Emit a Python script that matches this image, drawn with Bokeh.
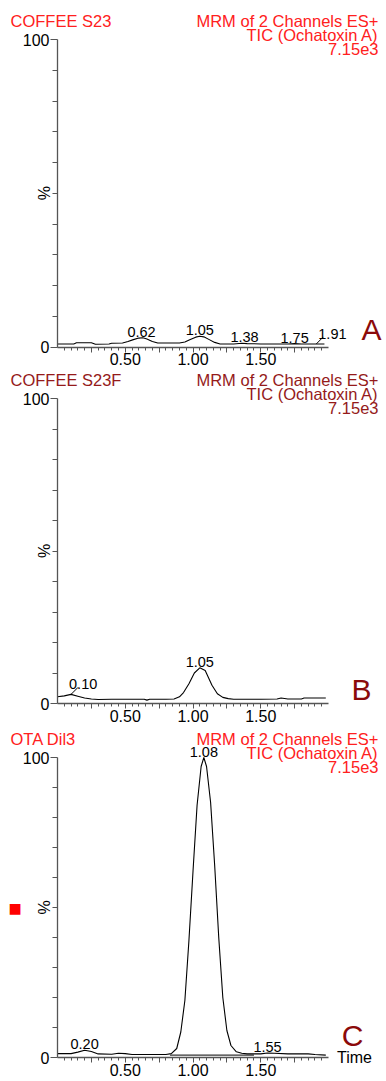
import numpy as np
from bokeh.plotting import figure
from bokeh.models import FixedTicker, Label, Range1d, PrintfTickFormatter
from bokeh.layouts import column
from bokeh.embed import file_html
from bokeh.resources import INLINE

FONT = "Liberation Sans"

# ---------------- data ----------------
a_time = [0.00, 0.12, 0.14, 0.25, 0.28, 0.38, 0.40, 0.48, 0.52, 0.56, 0.60, 0.63, 0.66, 0.70, 0.74,
          0.80, 0.90, 0.94, 0.98, 1.02, 1.05, 1.08, 1.12, 1.16, 1.20, 1.30, 1.36, 1.40, 1.50, 1.60,
          1.70, 1.75, 1.80, 1.90, 1.97]
a_pct = [1.0, 1.0, 1.4, 1.4, 0.9, 1.0, 1.2, 1.3, 1.8, 2.4, 2.9, 3.0, 2.6, 1.8, 1.3,
         1.3, 1.3, 1.6, 2.4, 3.2, 3.5, 3.3, 2.4, 1.5, 1.0, 1.0, 1.2, 1.1, 1.0, 1.0,
         1.0, 1.1, 1.0, 1.0, 1.0]
a_peaks = [0.62, 1.05, 1.38, 1.75]
a_side_peak = 1.91

b_time = [0.00, 0.05, 0.10, 0.15, 0.20, 0.25, 0.30, 0.40, 0.50, 0.64, 0.66, 0.68, 0.80, 0.86, 0.90,
          0.93, 0.97, 1.01, 1.05, 1.09, 1.14, 1.18, 1.22, 1.26, 1.30, 1.50, 1.62, 1.65, 1.70, 1.80,
          1.82, 1.98]
b_pct = [2.2, 2.5, 3.0, 2.4, 1.8, 1.5, 1.3, 1.4, 1.4, 1.4, 1.1, 1.4, 1.4, 1.5, 2.2,
         3.6, 6.5, 10.0, 11.7, 10.8, 6.0, 3.2, 2.0, 1.6, 1.4, 1.4, 1.5, 1.8, 1.5, 1.5,
         1.8, 1.8]
b_peaks = [1.05]
b_side_peak = 0.10

c_time = [0.00, 0.10, 0.15, 0.20, 0.25, 0.30, 0.40, 0.45, 0.50, 0.55, 0.80, 0.84, 0.88, 0.91, 0.94,
          0.97, 1.00, 1.03, 1.06, 1.08, 1.10, 1.13, 1.16, 1.19, 1.22, 1.25, 1.28, 1.32, 1.36, 1.40,
          1.50, 1.55, 1.60, 1.70, 1.85, 1.90, 1.98]
c_pct = [1.3, 1.3, 1.8, 2.4, 2.0, 1.2, 1.1, 1.4, 1.3, 1.0, 1.0, 1.3, 3.0, 8.5, 19.0,
         39.0, 62.0, 84.0, 97.0, 100.0, 97.0, 85.0, 64.0, 40.0, 20.0, 9.0, 4.0, 1.9, 1.4, 1.2,
         1.2, 1.5, 1.4, 1.2, 1.2, 1.0, 0.8]
c_peaks = [0.20, 1.08, 1.55]
c_base_time = [0.83, 1.45]
c_base_pct = [0.8, 0.8]

titles = ["COFFEE S23", "COFFEE S23F", "OTA Dil3"]
header_lines = ["MRM of 2 Channels ES+", "TIC (Ochatoxin A)", "7.15e3"]
panel_letters = ["A", "B", "C"]

x_major = [0.25, 0.5, 0.75, 1.0, 1.25, 1.5, 1.75]
x_minor = [round(0.05 * k, 2) for k in range(1, 40)]
y_major = [0, 100]
y_minor = [10, 20, 30, 40, 50, 60, 70, 80, 90]

RED = "#ff2020"
DARK = "#8b0a0a"
MAROON = "#951a1a"
AXIS = "#555555"

W = 386
AX_LEFT = 57      # px of time 0
PX_X = 135.5      # px per minute


def make_panel(height, axis_top, px_y, title, title_color, letter, letter_dx, letter_dy,
               t, v, peaks, side=None, side_dx=0):
    xs = 1.0 / PX_X
    ys = 1.0 / px_y
    axis_bottom = axis_top + 100 * px_y
    x0 = -AX_LEFT * xs
    x1 = (W - AX_LEFT) * xs
    y0 = -(height - axis_bottom) * ys
    y1 = 100 + axis_top * ys
    p = figure(width=W, height=height, x_range=Range1d(x0, x1), y_range=Range1d(y0, y1),
               output_backend="svg", toolbar_location=None,
               min_border_left=0, min_border_right=0, min_border_top=0, min_border_bottom=0)
    p.outline_line_color = None
    p.background_fill_alpha = 0
    p.border_fill_alpha = 0
    p.xgrid.visible = False
    p.ygrid.visible = False

    for ax in (p.xaxis[0], p.yaxis[0]):
        ax.fixed_location = 0
        ax.axis_line_color = AXIS
        ax.axis_line_width = 1.3
        ax.major_tick_line_color = AXIS
        ax.minor_tick_line_color = AXIS
        ax.major_tick_in = 0
        ax.minor_tick_in = 0
        ax.major_label_text_font = FONT
        ax.major_label_text_font_size = "16px"
        ax.major_label_text_color = "#000000"
        ax.major_label_standoff = 1
    p.xaxis.major_tick_out = 5
    p.xaxis.minor_tick_out = 3
    p.yaxis.major_tick_out = 7
    p.yaxis.minor_tick_out = 5
    p.xaxis.bounds = (0, 2.0)
    p.yaxis.bounds = (0, 100)
    p.xaxis.ticker = FixedTicker(ticks=x_major, minor_ticks=x_minor)
    p.xaxis.formatter = PrintfTickFormatter(format="%.2f")
    p.xaxis.major_label_overrides = {0.25: "", 0.75: "", 1.25: "", 1.75: ""}
    p.yaxis.ticker = FixedTicker(ticks=y_major, minor_ticks=y_minor)

    p.line(t, v, line_color="black", line_width=1.1)

    # peak labels
    for pk in peaks:
        yv = float(np.interp(pk, t, v))
        p.add_layout(Label(x=pk, y=yv, text=f"{pk:.2f}", text_font=FONT, text_font_size="14.5px",
                           text_align="center", text_baseline="bottom", y_offset=1,
                           text_color="black"))
    if side is not None:
        yv = float(np.interp(side, t, v))
        p.segment(x0=[side], y0=[yv], x1=[side + 7 * xs], y1=[yv + 7 * ys],
                  line_color="black", line_width=1)
        p.add_layout(Label(x=side, y=yv, text=f"{side:.2f}", text_font=FONT,
                           text_font_size="14.5px", text_align="left", text_baseline="bottom",
                           x_offset=side_dx, y_offset=5, text_color="black"))

    # headers
    p.add_layout(Label(x=-47 * xs, y=100 + 19 * ys, text=title, text_font=FONT,
                       text_font_size="16.5px", text_align="left", text_baseline="middle",
                       text_color=title_color))
    for line, dy in zip(header_lines, [19, 5, -9]):
        p.add_layout(Label(x=2.0 + 50 * xs, y=100 + dy * ys, text=line,
                           text_font=FONT, text_font_size="16.5px", text_align="right",
                           text_baseline="middle", text_color=title_color))
    # panel letter
    p.add_layout(Label(x=2.0 + letter_dx * xs, y=letter_dy * ys, text=letter, text_font=FONT,
                       text_font_size="30px", text_align="center", text_baseline="middle",
                       text_color=DARK))
    # % label
    p.add_layout(Label(x=-13 * xs, y=50, text="%", angle=np.pi / 2, text_font=FONT,
                       text_font_size="16px", text_align="center", text_baseline="middle",
                       text_color="black"))
    return p


pa = make_panel(369, 39, 3.075, titles[0], RED, "A", 43, 18,
                a_time, a_pct, a_peaks, side=a_side_peak, side_dx=2)
pb = make_panel(359, 29, 3.05, titles[1], MAROON, "B", 33, 14,
                b_time, b_pct, b_peaks, side=b_side_peak, side_dx=-2)
pc = make_panel(353, 29, 3.0, titles[2], RED, "C", 24, 22,
                c_time, c_pct, c_peaks)
pc.line(c_base_time, c_base_pct, line_color="black", line_width=1)
pc.add_layout(Label(x=2.0 + 26 / PX_X, y=0, text="Time", text_font=FONT,
                    text_font_size="16px", text_align="center", text_baseline="middle",
                    text_color="black"))
pc.add_layout(Label(x=-42.5 / PX_X, y=50, text="■", text_font="DejaVu Sans",
                    text_font_size="14px", text_align="center", text_baseline="middle",
                    text_color="#ff0000"))

layout = column(pa, pb, pc, spacing=0)

open("out.html", "w").write(file_html(layout, INLINE))
